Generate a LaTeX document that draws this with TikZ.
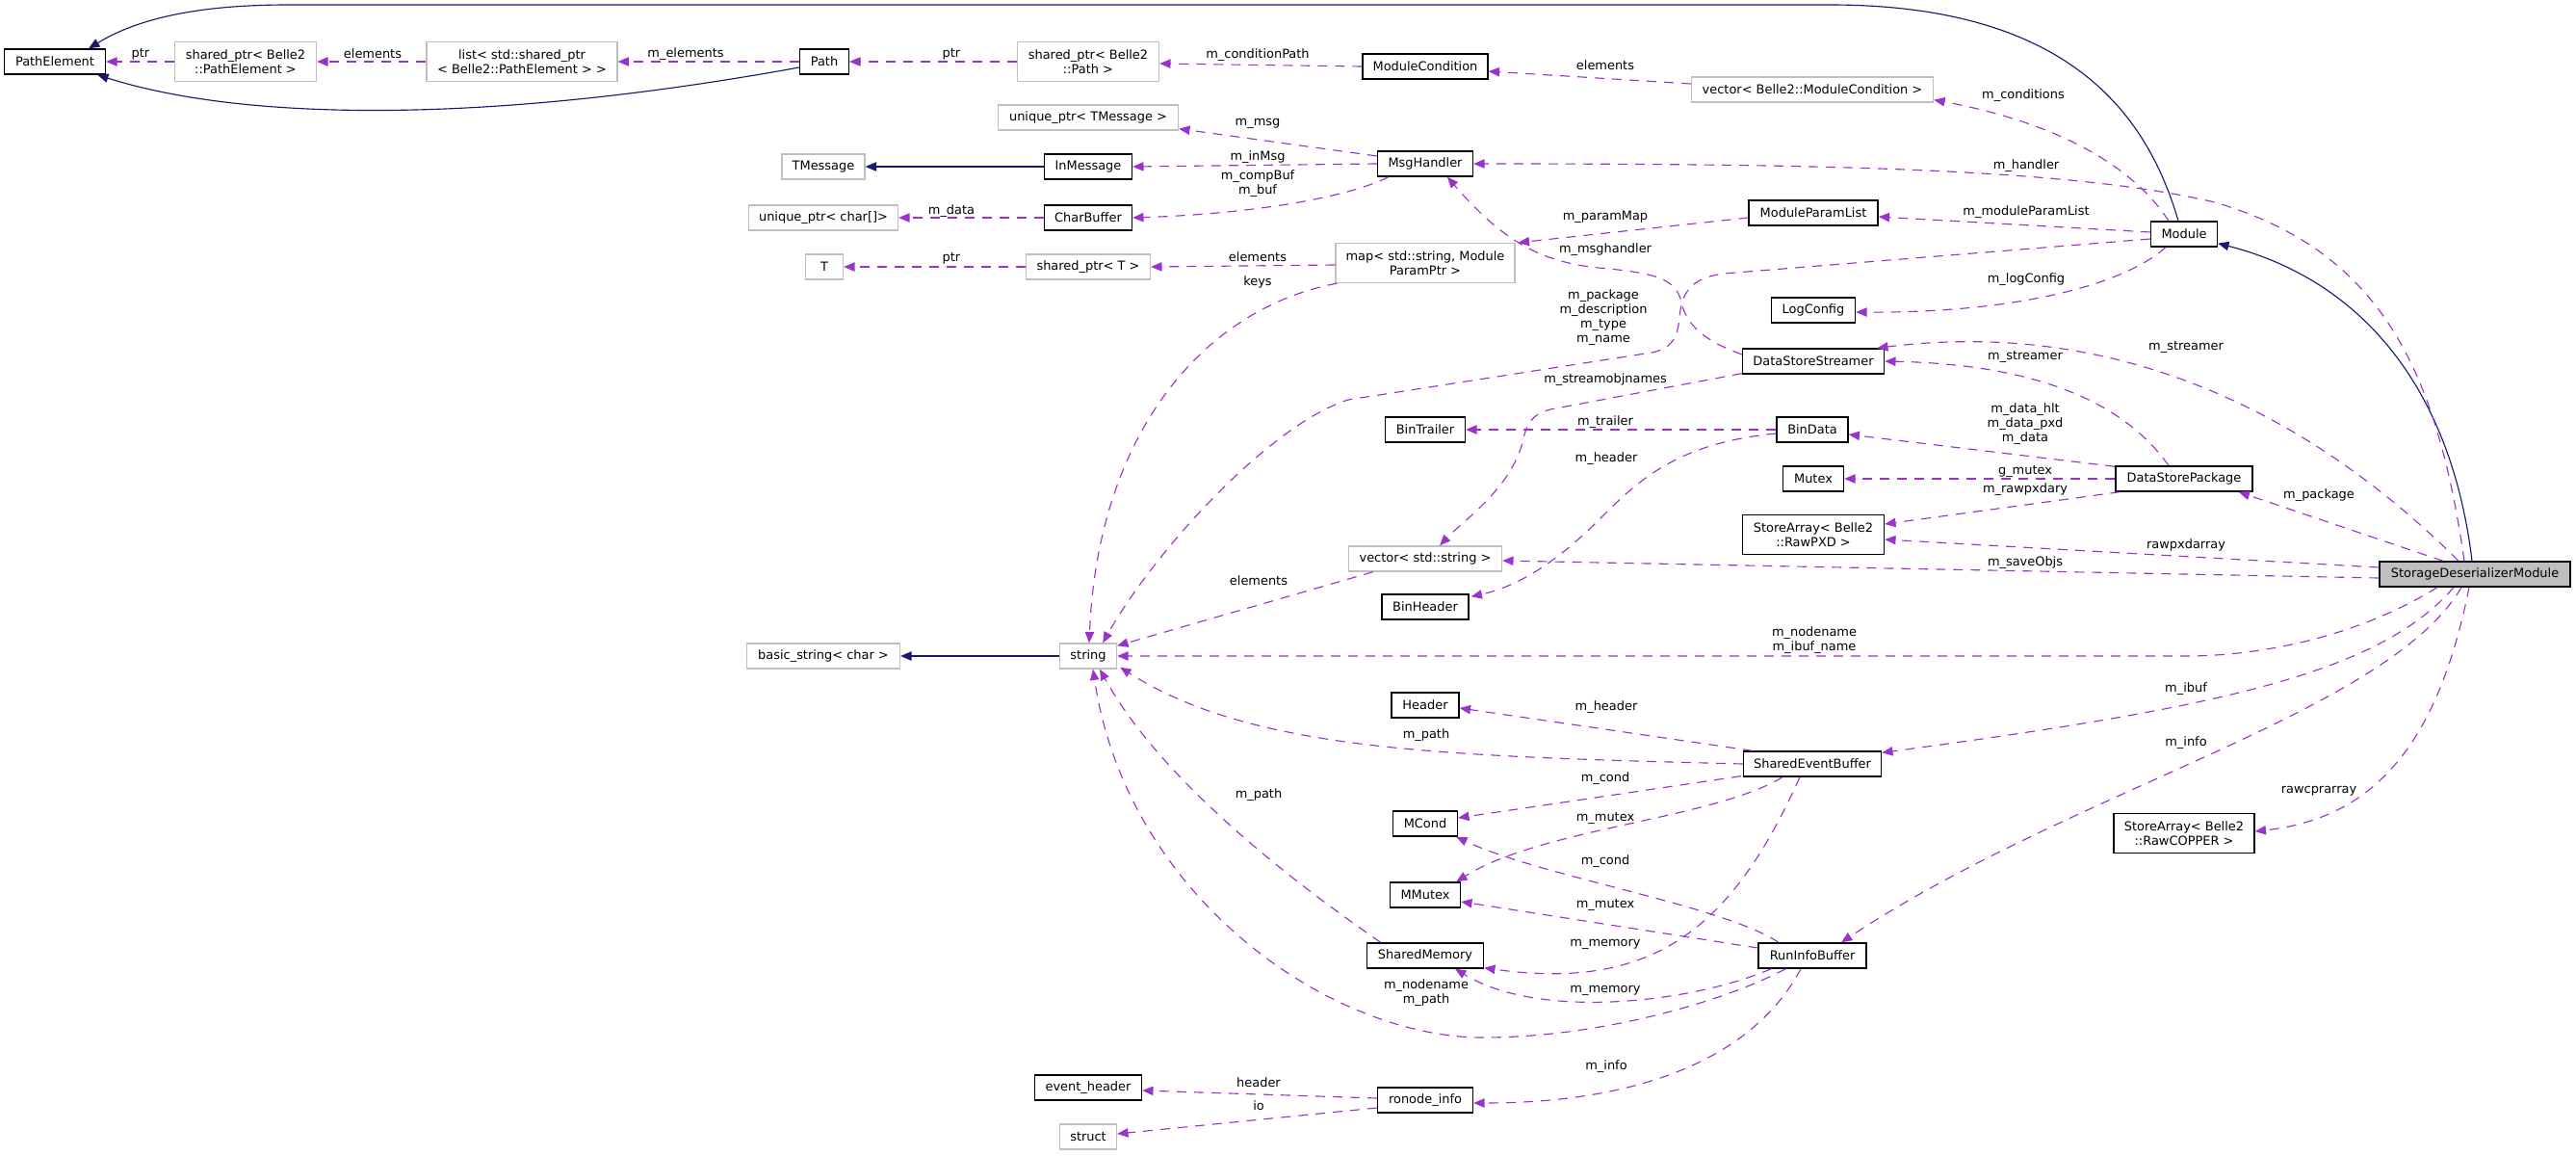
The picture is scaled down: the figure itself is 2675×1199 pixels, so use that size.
\documentclass[tikz,border=0pt]{standalone}
\usepackage{fontspec}
\setmainfont{DejaVu Sans}
\usetikzlibrary{arrows.meta}
\definecolor{dorchid}{HTML}{9A32CD}
\definecolor{mblue}{HTML}{191970}
\definecolor{greyseventyfive}{HTML}{BFBFBF}
\newcommand\dxfont{\fontsize{9.7}{11.25}\selectfont}
\tikzset{
  cls/.style={draw=black, line width=1pt, fill=white, inner sep=0pt, minimum height=19.5pt, align=center, font=\dxfont},
  ucls/.style={cls, draw=greyseventyfive},
  two/.style={minimum height=30.75pt},
  W/.style={minimum width=#1*0.75pt},
  dep/.style={draw=dorchid, line width=0.85pt, dash pattern=on 7.5pt off 6pt, -{Triangle[length=8.5pt,width=7pt]}},
  inh/.style={draw=mblue, line width=0.85pt, -{Triangle[length=8.5pt,width=7pt]}},
  lbl/.style={font=\dxfont, align=center, inner sep=0pt},
}
\begin{document}
\begin{tikzpicture}[x=0.75pt, y=-0.75pt]
\useasboundingbox (0,0) rectangle (2675,1199);
% nodes
\node[cls, W=105] (pe) at (57,64) {PathElement};
\node[ucls, two, W=147] (sppe) at (255,64) {shared\_ptr< Belle2\\::PathElement >};
\node[ucls, two, W=198] (lst) at (542,64) {list< std::shared\_ptr\\< Belle2::PathElement > >};
\node[cls, W=51] (path) at (856,64) {Path};
\node[ucls, two, W=147] (sppath) at (1130,64) {shared\_ptr< Belle2\\::Path >};
\node[cls, W=130] (mc) at (1480,69) {ModuleCondition};
\node[ucls, W=251] (vmc) at (1882,93) {vector< Belle2::ModuleCondition >};
\node[ucls, W=187] (utm) at (1130,122) {unique\_ptr< TMessage >};
\node[ucls, W=86] (tm) at (855,173) {TMessage};
\node[cls, W=91] (inm) at (1130,173) {InMessage};
\node[cls, W=99] (mh) at (1480,170) {MsgHandler};
\node[ucls, W=155] (uch) at (855,226) {unique\_ptr< char[]>};
\node[cls, W=91] (cb) at (1130,226) {CharBuffer};
\node[ucls, W=39] (t) at (856,277) {T};
\node[ucls, W=129] (spt) at (1130,277) {shared\_ptr< T >};
\node[ucls, two, W=186] (map) at (1480,273) {map< std::string, Module\\ParamPtr >};
\node[cls, W=134] (mpl) at (1883,221) {ModuleParamList};
\node[cls, W=69] (mod) at (2268,243) {Module};
\node[cls, W=87] (lc) at (1883,322) {LogConfig};
\node[cls, W=147] (dss) at (1883,375) {DataStoreStreamer};
\node[cls, W=83] (bt) at (1480,446) {BinTrailer};
\node[cls, W=74] (bd) at (1882,446) {BinData};
\node[cls, W=63] (mtx) at (1883,497) {Mutex};
\node[cls, W=142] (dsp) at (2268,497) {DataStorePackage};
\node[cls, two, W=147] (pxd) at (1883,555) {StoreArray< Belle2\\::RawPXD >};
\node[cls, W=198, fill=greyseventyfive] (sdm) at (2570,596) {StorageDeserializerModule};
\node[ucls, W=159] (vs) at (1480,580) {vector< std::string >};
\node[cls, W=90] (bh) at (1480,630) {BinHeader};
\node[ucls, W=159] (bs) at (855,681) {basic\_string< char >};
\node[ucls, W=59] (str) at (1130,681) {string};
\node[cls, W=70] (hd) at (1480,732) {Header};
\node[cls, W=143] (seb) at (1882,793) {SharedEventBuffer};
\node[cls, W=67] (mcd) at (1480,855) {MCond};
\node[cls, two, W=146] (cop) at (2268,865) {StoreArray< Belle2\\::RawCOPPER >};
\node[cls, W=73] (mmx) at (1480,929) {MMutex};
\node[cls, W=121] (shm) at (1480,992) {SharedMemory};
\node[cls, W=112] (rib) at (1882,992) {RunInfoBuffer};
\node[cls, W=111] (evh) at (1130,1129) {event\_header};
\node[cls, W=99] (ron) at (1480,1142) {ronode\_info};
\node[ucls, W=59] (st) at (1130,1180) {struct};
% inheritance
\draw[inh] ([shift={(0,6)}]path.west) .. controls (500,130) and (250,125) .. ([shift={(-9,0)}]pe.south east);
\draw[inh] ([shift={(-6,0)}]mod.north) .. controls (2230,120) and (2150,5) .. (1900,5) -- (300,5) .. controls (220,5) and (150,15) .. ([shift={(35,0)}]pe.north);
\draw[inh] (inm.west) -- (tm.east);
\draw[inh] (str.west) -- (bs.east);
\draw[inh] ([shift={(-3,0)}]sdm.north) .. controls (2545,400) and (2450,290) .. ([shift={(0,-4)}]mod.south east);
% usage
\draw[dep] (sppe.west) -- (pe.east);
\draw[dep] (lst.west) -- (sppe.east);
\draw[dep] (path.west) -- (lst.east);
\draw[dep] (sppath.west) -- (path.east);
\draw[dep] (mc.west) -- ([shift={(0,2)}]sppath.east);
\draw[dep] ([shift={(0,-6)}]vmc.west) -- ([shift={(0,5)}]mc.east);
\draw[dep] ([shift={(-16,0)}]mod.north) .. controls (2220,180) and (2150,130) .. ([shift={(0,-3)}]vmc.south east);
\draw[dep] ([shift={(0,-8)}]mh.west) -- ([shift={(0,-2)}]utm.south east);
\draw[dep] (mh.west) -- (inm.east);
\draw[dep] ([shift={(12,0)}]mh.south west) .. controls (1400,205) and (1300,222) .. (cb.east);
\draw[dep] (cb.west) -- (uch.east);
\draw[dep] (spt.west) -- (t.east);
\draw[dep] ([shift={(0,2)}]map.west) -- (spt.east);
\draw[dep] ([shift={(2,0)}]map.south west) .. controls (1250,320) and (1140,450) .. ([shift={(1,0)}]str.north);
\draw[dep] ([shift={(0,5)}]mod.west) -- (1790,284) .. controls (1760,288) and (1746,300) .. (1744,330) .. controls (1742,352) and (1735,362) .. (1715,366) -- (1400,415) .. controls (1320,440) and (1200,570) .. ([shift={(-15,0)}]str.north east);
\draw[dep] ([shift={(-11,0)}]sdm.north) .. controls (2530,380) and (2470,260) .. (2300,210) .. controls (2150,175) and (1900,170) .. (mh.east);
\draw[dep] ([shift={(0,-7)}]dss.west) .. controls (1765,352) and (1750,335) .. (1745,310) .. controls (1738,288) and (1715,283) .. (1660,278) .. controls (1600,272) and (1560,250) .. ([shift={(23,0)}]mh.south);
\draw[dep] ([shift={(0,5)}]mpl.west) -- ([shift={(3,0)}]map.north east);
\draw[dep] ([shift={(0,-2)}]mod.west) -- ([shift={(0,4)}]mpl.east);
\draw[dep] ([shift={(-19,0)}]mod.south) .. controls (2200,300) and (2080,325) .. ([shift={(0,2)}]lc.east);
\draw[dep] ([shift={(-17,0)}]sdm.north) .. controls (2400,430) and (2200,330) .. ([shift={(-8,0)}]dss.north east);
\draw[dep] ([shift={(-16,0)}]dsp.north) .. controls (2200,410) and (2100,378) .. (dss.east);
\draw[dep] ([shift={(0,1)}]dsp.north west) -- ([shift={(0,5)}]bd.east);
\draw[dep] (dsp.west) -- (mtx.east);
\draw[dep] ([shift={(5,0)}]dsp.south west) -- ([shift={(0,-11)}]pxd.east);
\draw[dep] ([shift={(-33,0)}]sdm.north) -- ([shift={(-15,0)}]dsp.south east);
\draw[dep] ([shift={(0,-7)}]sdm.west) -- ([shift={(0,5)}]pxd.east);
\draw[dep] ([shift={(0,4)}]sdm.west) -- ([shift={(0,2)}]vs.east);
\draw[dep] ([shift={(-39,0)}]sdm.south) .. controls (2450,660) and (2350,681) .. (2270,681) -- (str.east);
\draw[dep] ([shift={(-22,0)}]sdm.south) .. controls (2470,700) and (2300,735) .. ([shift={(0,2)}]seb.north east);
\draw[dep] ([shift={(-14,0)}]sdm.south) .. controls (2480,740) and (2150,820) .. ([shift={(30,0)}]rib.north);
\draw[dep] ([shift={(-6,0)}]sdm.south) .. controls (2530,780) and (2460,850) .. ([shift={(0,-2)}]cop.east);
\draw[dep] ([shift={(26,0)}]vs.south west) -- ([shift={(0,3)}]str.north east);
\draw[dep] ([shift={(10,0)}]seb.north west) -- ([shift={(0,3)}]hd.east);
\draw[dep] (seb.west) .. controls (1500,785) and (1300,780) .. ([shift={(3,-2)}]str.south east);
\draw[dep] ([shift={(-2,-1)}]seb.south west) -- ([shift={(0,-6)}]mcd.east);
\draw[dep] ([shift={(-31,0)}]seb.south) .. controls (1780,850) and (1600,860) .. ([shift={(-5,0)}]mmx.north east);
\draw[dep] ([shift={(-13,0)}]seb.south) .. controls (1800,960) and (1720,1030) .. ([shift={(0,-1)}]shm.south east);
\draw[dep] ([shift={(-35,0)}]rib.north) .. controls (1790,940) and (1600,910) .. ([shift={(-2,0)}]mcd.south east);
\draw[dep] ([shift={(0,-8)}]rib.west) -- ([shift={(0,7)}]mmx.east);
\draw[dep] ([shift={(14,0)}]rib.south west) .. controls (1760,1040) and (1600,1060) .. ([shift={(31,0)}]shm.south);
\draw[dep] ([shift={(29,0)}]rib.south west) .. controls (1790,1040) and (1660,1077) .. (1540,1077) .. controls (1380,1077) and (1170,930) .. ([shift={(5,0)}]str.south);
\draw[dep] ([shift={(15,0)}]shm.north west) .. controls (1320,900) and (1200,800) .. ([shift={(12,0)}]str.south);
\draw[dep] ([shift={(-12,0)}]rib.south) .. controls (1820,1100) and (1700,1145) .. ([shift={(0,3)}]ron.east);
\draw[dep] ([shift={(0,-2)}]ron.west) -- ([shift={(0,3)}]evh.east);
\draw[dep] ([shift={(0,8)}]ron.west) -- ([shift={(0,-3)}]st.east);
\draw[dep] (bd.west) -- (bt.east);
\draw[dep] ([shift={(0,4)}]bd.west) .. controls (1740,460) and (1700,500) .. (1660,540) .. controls (1610,590) and (1570,610) .. ([shift={(2,3)}]bh.north east);
\draw[dep] ([shift={(0,-1)}]dss.south west) -- (1610,425) .. controls (1590,430) and (1585,440) .. (1580,463) .. controls (1565,510) and (1520,540) .. ([shift={(15,0)}]vs.north);
% labels
\node[lbl] (l1) at (146,56) {ptr};
\node[lbl] (l2) at (387,56) {elements};
\node[lbl] (l3) at (712,56) {m\_elements};
\node[lbl] (l4) at (988,56) {ptr};
\node[lbl] (l5) at (1306,57) {m\_conditionPath};
\node[lbl] (l6) at (1667,68) {elements};
\node[lbl] (l7) at (2101,99) {m\_conditions};
\node[lbl] (l8) at (1306,128) {m\_msg};
\node[lbl] (l9) at (1306,163) {m\_inMsg};
\node[lbl] (l10) at (1306,191) {m\_compBuf\\m\_buf};
\node[lbl] (l11) at (2104,172) {m\_handler};
\node[lbl] (l12) at (988,219) {m\_data};
\node[lbl] (l13) at (2104,220) {m\_moduleParamList};
\node[lbl] (l14) at (1667,225) {m\_paramMap};
\node[lbl] (l15) at (988,268) {ptr};
\node[lbl] (l16) at (1306,267) {elements};
\node[lbl] (l17) at (1306,293) {keys};
\node[lbl] (l18) at (1667,259) {m\_msghandler};
\node[lbl] (l19) at (2104,290) {m\_logConfig};
\node[lbl] (l20) at (1665,330) {m\_package\\m\_description\\m\_type\\m\_name};
\node[lbl] (l21) at (2270,360) {m\_streamer};
\node[lbl] (l22) at (2103,370) {m\_streamer};
\node[lbl] (l23) at (1667,394) {m\_streamobjnames};
\node[lbl] (l24) at (2103,440) {m\_data\_hlt\\m\_data\_pxd\\m\_data};
\node[lbl] (l25) at (1667,438) {m\_trailer};
\node[lbl] (l26) at (1668,476) {m\_header};
\node[lbl] (l27) at (2103,489) {g\_mutex};
\node[lbl] (l28) at (2103,508) {m\_rawpxdary};
\node[lbl] (l29) at (2408,514) {m\_package};
\node[lbl] (l30) at (2270,566) {rawpxdarray};
\node[lbl] (l31) at (2103,584) {m\_saveObjs};
\node[lbl] (l32) at (1307,603) {elements};
\node[lbl] (l33) at (1884,665) {m\_nodename\\m\_ibuf\_name};
\node[lbl] (l34) at (2270,715) {m\_ibuf};
\node[lbl] (l35) at (1668,734) {m\_header};
\node[lbl] (l36) at (1481,763) {m\_path};
\node[lbl] (l37) at (2270,771) {m\_info};
\node[lbl] (l38) at (1667,808) {m\_cond};
\node[lbl] (l39) at (2408,821) {rawcprarray};
\node[lbl] (l40) at (1307,825) {m\_path};
\node[lbl] (l41) at (1667,849) {m\_mutex};
\node[lbl] (l42) at (1667,894) {m\_cond};
\node[lbl] (l43) at (1667,939) {m\_mutex};
\node[lbl] (l44) at (1667,980) {m\_memory};
\node[lbl] (l45) at (1481,1031) {m\_nodename\\m\_path};
\node[lbl] (l46) at (1667,1028) {m\_memory};
\node[lbl] (l47) at (1668,1107) {m\_info};
\node[lbl] (l48) at (1307,1124) {header};
\node[lbl] (l49) at (1307,1148) {io};
\end{tikzpicture}
\end{document}
